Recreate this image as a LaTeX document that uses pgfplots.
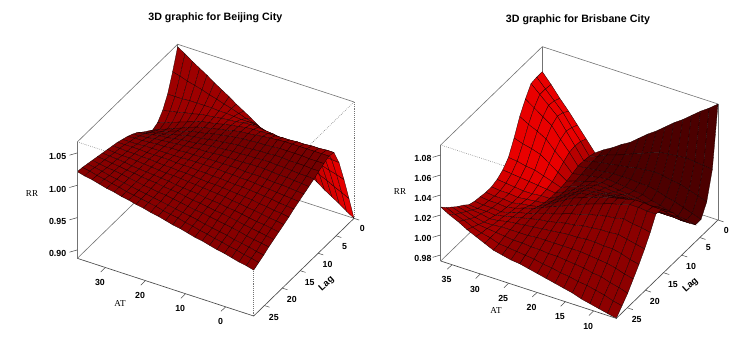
\documentclass[border=0pt]{standalone}
\usepackage{fontspec}
\setmainfont{Liberation Sans}
\newfontfamily\serifrm{Liberation Serif}
\usepackage{pgfplots}
\pgfplotsset{compat=1.18}
\def\ramp#1#2#3{min(1,max(0,((#1)-(#2))/((#3)-(#2))))}
\pgfplotsset{
  colormap={rr}{rgb255(0)=(45,0,0) rgb255(1)=(235,0,0)},
  persp/.style={
    clip=false, grid=none, axis line style={draw=none},
    tick style={draw=none}, major tick length=3pt,
    tick align=outside, xtick pos=left, ytick pos=left, ztick pos=left,
    ticklabel style={font=\bfseries\fontsize{6.6}{8}\selectfont,inner sep=1pt},
    xticklabel style={yshift=-4.8pt},
    yticklabel style={yshift=-3pt,xshift=0.7pt},
    colormap name=rr, point meta min=0, point meta max=1,
  },
  surfst/.style={surf,shader=faceted,faceted color=black!90!red,line width=0.22pt,z buffer=none,point meta=explicit},
  solidg/.style={gray!90!black,line width=0.45pt,forget plot},
  dotg/.style={gray!90!black,line width=0.45pt,densely dotted,forget plot},
  solidk/.style={black!70,line width=0.5pt,forget plot},
  tk/.style={black!70,line width=0.4pt,forget plot,unbounded coords=jump},
}
\begin{document}
\begin{tikzpicture}
\path[use as bounding box] (0,0) rectangle (552pt,252pt);
\node[font=\bfseries\fontsize{8}{9}\selectfont] at (161.5pt,238.5pt) {3D graphic for Beijing City};
\node[font=\bfseries\fontsize{8}{9}\selectfont] at (433.5pt,237pt) {3D graphic for Brisbane City};
\node[font=\serifrm\fontsize{6.8}{8}\selectfont] at (24pt,107pt) {RR};
\node[font=\serifrm\fontsize{6.8}{8}\selectfont] at (90pt,24pt) {AT};
\node[font=\bfseries\fontsize{7}{8}\selectfont,rotate=42] at (245pt,39pt) {Lag};
\node[font=\serifrm\fontsize{6.8}{8}\selectfont] at (300pt,108pt) {RR};
\node[font=\serifrm\fontsize{6.8}{8}\selectfont] at (372pt,19pt) {AT};
\node[font=\bfseries\fontsize{7}{8}\selectfont,rotate=42] at (518pt,38pt) {Lag};
\begin{axis}[persp,at={(58pt,15pt)},anchor=south west,
  x={(-3.006pt,0.983pt)},y={(-2.687pt,-2.616pt)},z={(0pt,485pt)},
  xmin=-7,xmax=37,ymin=0,ymax=28,zmin=0.887,zmax=1.067,
  zticklabel style={xshift=-5pt,yshift=1pt},
  xtick={0,10,20,30},xticklabels={0,10,20,30},
  ytick={0,5,10,15,20,25},yticklabels={0,5,10,15,20,25},
  ztick={0.9,0.95,1,1.05},zticklabels={0.90,0.95,1.00,1.05}]
\addplot3[solidg] coordinates {(37,28,1.067)(37,0,1.067)(-7,0,1.067)};
\addplot3[solidg] coordinates {(37,28,0.887)(37,0,0.887)(-7,0,0.887)};
\addplot3[solidg] coordinates {(37,0,0.887)(37,0,1.067)};
\addplot3[dotg] coordinates {(37,28,1.067)(-7,28,1.067)(-7,0,1.067)};
\addplot3[dotg] coordinates {(-7,28,0.887)(-7,28,1.067)};
\addplot3[dotg] coordinates {(-7,0,0.887)(-7,0,1.067)};
\addplot3[surfst,mesh/rows=21,mesh/cols=25] table[header=false,x expr={37-44/24*mod(\coordindex,25)},y expr={1.4*floor((\coordindex+0.5)/25)},z index=0,
 meta expr={0.47+(1-\ramp{1.4*floor((\coordindex+0.5)/25)}{4}{7})*(0.12+0.4*(mod(\coordindex,25)/24)^3)-0.1*\ramp{1.4*floor((\coordindex+0.5)/25)}{5}{8}*(1-\ramp{1.4*floor((\coordindex+0.5)/25)}{10}{16})}] {
1.063
1.056
1.048
1.041
1.034
1.026
1.019
1.012
1.004
0.997
0.990
0.982
0.975
0.968
0.960
0.953
0.946
0.938
0.931
0.924
0.916
0.909
0.902
0.894
0.887
1.032
1.029
1.025
1.022
1.019
1.015
1.012
1.008
1.005
1.001
0.997
0.994
0.990
0.985
0.979
0.974
0.969
0.963
0.958
0.953
0.947
0.942
0.936
0.931
0.925
1.005
1.005
1.005
1.006
1.006
1.006
1.006
1.005
1.005
1.004
1.003
1.003
1.002
0.999
0.996
0.992
0.989
0.986
0.983
0.980
0.976
0.973
0.969
0.966
0.962
0.987
0.990
0.992
0.995
0.997
1.000
1.002
1.003
1.005
1.006
1.007
1.009
1.010
1.009
1.008
1.007
1.005
1.004
1.003
1.002
1.001
1.000
0.998
0.997
0.996
0.976
0.980
0.984
0.988
0.992
0.996
1.000
1.002
1.004
1.007
1.009
1.011
1.013
1.014
1.014
1.015
1.015
1.016
1.016
1.017
1.017
1.018
1.018
1.019
1.019
0.972
0.977
0.981
0.986
0.990
0.995
0.999
1.002
1.004
1.007
1.009
1.012
1.014
1.015
1.016
1.018
1.019
1.020
1.021
1.021
1.021
1.021
1.021
1.021
1.021
0.978
0.982
0.985
0.989
0.993
0.996
1.000
1.002
1.004
1.007
1.009
1.011
1.013
1.014
1.015
1.016
1.016
1.017
1.018
1.018
1.018
1.018
1.017
1.017
1.017
0.984
0.987
0.990
0.992
0.995
0.998
1.001
1.003
1.004
1.006
1.008
1.009
1.011
1.012
1.012
1.013
1.014
1.014
1.015
1.015
1.014
1.014
1.014
1.013
1.013
0.991
0.993
0.995
0.997
0.998
1.000
1.002
1.003
1.004
1.006
1.007
1.008
1.009
1.010
1.010
1.011
1.011
1.012
1.012
1.011
1.011
1.010
1.009
1.009
1.008
0.996
0.997
0.998
1.000
1.001
1.002
1.003
1.004
1.005
1.006
1.006
1.007
1.008
1.008
1.008
1.008
1.009
1.009
1.009
1.008
1.007
1.007
1.006
1.005
1.004
1.000
1.001
1.001
1.002
1.003
1.003
1.004
1.004
1.005
1.005
1.005
1.006
1.006
1.006
1.006
1.006
1.005
1.005
1.005
1.004
1.003
1.003
1.002
1.001
1.000
1.003
1.003
1.003
1.004
1.004
1.004
1.004
1.004
1.004
1.005
1.005
1.005
1.005
1.005
1.004
1.004
1.003
1.003
1.002
1.001
1.000
0.999
0.998
0.997
0.996
1.006
1.006
1.006
1.006
1.005
1.005
1.005
1.005
1.004
1.004
1.004
1.003
1.003
1.002
1.002
1.001
1.000
1.000
0.999
0.998
0.997
0.996
0.994
0.993
0.992
1.008
1.008
1.007
1.007
1.006
1.006
1.005
1.004
1.004
1.003
1.003
1.002
1.001
1.000
1.000
0.999
0.998
0.997
0.996
0.995
0.993
0.992
0.990
0.989
0.987
1.010
1.009
1.008
1.008
1.007
1.006
1.005
1.004
1.003
1.003
1.002
1.001
1.000
0.999
0.998
0.997
0.996
0.994
0.993
0.991
0.990
0.988
0.986
0.985
0.983
1.012
1.011
1.010
1.009
1.007
1.006
1.005
1.004
1.003
1.002
1.000
0.999
0.998
0.997
0.995
0.994
0.993
0.991
0.990
0.988
0.986
0.984
0.983
0.981
0.979
1.014
1.013
1.011
1.010
1.008
1.007
1.005
1.004
1.003
1.001
1.000
0.999
0.997
0.995
0.994
0.992
0.990
0.989
0.987
0.985
0.983
0.981
0.979
0.977
0.975
1.016
1.014
1.012
1.011
1.009
1.007
1.005
1.003
1.002
1.000
0.999
0.997
0.995
0.993
0.991
0.990
0.988
0.986
0.984
0.982
0.980
0.977
0.975
0.973
0.971
1.018
1.016
1.014
1.011
1.009
1.007
1.005
1.003
1.001
0.999
0.997
0.995
0.993
0.991
0.989
0.987
0.984
0.982
0.980
0.978
0.975
0.973
0.971
0.968
0.966
1.020
1.018
1.015
1.013
1.010
1.008
1.005
1.003
1.001
0.999
0.997
0.994
0.992
0.990
0.987
0.985
0.982
0.980
0.977
0.975
0.972
0.970
0.967
0.965
0.962
1.021
1.018
1.016
1.013
1.010
1.008
1.005
1.003
1.000
0.998
0.995
0.993
0.990
0.987
0.985
0.982
0.979
0.977
0.974
0.971
0.969
0.966
0.963
0.961
0.958
};
\addplot3[solidk] coordinates {(37,28,0.887)(-7,28,0.887)(-7,0,0.887)};
\addplot3[solidg] coordinates {(37,28,0.887)(37,28,1.067)};
\addplot3[tk] coordinates {(30,28,0.887)(30,29.3,0.887)(nan,nan,nan)(20,28,0.887)(20,29.3,0.887)(nan,nan,nan)(10,28,0.887)(10,29.3,0.887)(nan,nan,nan)(0,28,0.887)(0,29.3,0.887)};
\addplot3[tk] coordinates {(-7,0,0.887)(-8.3,0,0.887)(nan,nan,nan)(-7,5,0.887)(-8.3,5,0.887)(nan,nan,nan)(-7,10,0.887)(-8.3,10,0.887)(nan,nan,nan)(-7,15,0.887)(-8.3,15,0.887)(nan,nan,nan)(-7,20,0.887)(-8.3,20,0.887)(nan,nan,nan)(-7,25,0.887)(-8.3,25,0.887)};
\addplot3[tk] coordinates {(37,28,0.9)(38.05,29.05,0.9)(nan,nan,nan)(37,28,0.95)(38.05,29.05,0.95)(nan,nan,nan)(37,28,1)(38.05,29.05,1)(nan,nan,nan)(37,28,1.05)(38.05,29.05,1.05)};
\end{axis}
\begin{axis}[persp,at={(330.5pt,13.25pt)},anchor=south west,
  x={(-4.25pt,1.387pt)},y={(-2.723pt,-2.634pt)},z={(0pt,750pt)},
  xmin=6,xmax=37,ymin=0,ymax=28,zmin=0.974,zmax=1.09,
  zticklabel style={xshift=-3.5pt,yshift=1pt},
  xtick={10,15,20,25,30,35},xticklabels={10,15,20,25,30,35},
  ytick={0,5,10,15,20,25},yticklabels={0,5,10,15,20,25},
  ztick={0.98,1,1.02,1.04,1.06,1.08},zticklabels={0.98,1.00,1.02,1.04,1.06,1.08}]
\addplot3[solidg] coordinates {(37,28,1.09)(37,0,1.09)(6,0,1.09)};
\addplot3[solidg] coordinates {(37,28,0.974)(37,0,0.974)(6,0,0.974)};
\addplot3[solidg] coordinates {(37,0,0.974)(37,0,1.09)};
\addplot3[dotg] coordinates {(37,28,1.09)(6,28,1.09)(6,0,1.09)};
\addplot3[dotg] coordinates {(6,28,0.974)(6,28,1.09)};
\addplot3[solidg] coordinates {(6,0,0.974)(6,0,1.09)};
\addplot3[surfst,mesh/rows=19,mesh/cols=21] table[header=false,x expr={37-31/20*mod(\coordindex,21)},y expr={28/18*floor((\coordindex+0.5)/21)},z index=0,
 meta expr={(1-\ramp{mod(\coordindex,21)/20}{0.25}{0.33})*(0.62+0.36*(1-\ramp{28/18*floor((\coordindex+0.5)/21)}{10}{17}))+\ramp{mod(\coordindex,21)/20}{0.25}{0.33}*(0.16+0.14*\ramp{28/18*floor((\coordindex+0.5)/21)}{4}{9}+0.2*\ramp{28/18*floor((\coordindex+0.5)/21)}{15}{19})}] {
1.065
1.055
1.044
1.034
1.023
1.012
1.001
1.007
1.012
1.018
1.023
1.030
1.037
1.043
1.050
1.057
1.063
1.070
1.077
1.083
1.090
1.065
1.056
1.047
1.038
1.026
1.015
1.003
1.006
1.010
1.013
1.016
1.020
1.023
1.027
1.030
1.031
1.032
1.033
1.032
1.031
1.030
1.064
1.056
1.048
1.040
1.028
1.016
1.004
1.006
1.008
1.009
1.011
1.012
1.014
1.015
1.016
1.015
1.013
1.012
1.009
1.006
1.003
1.054
1.048
1.042
1.036
1.025
1.015
1.004
1.005
1.006
1.007
1.008
1.008
1.008
1.007
1.007
1.005
1.002
1.000
0.997
0.994
0.991
1.042
1.037
1.033
1.028
1.019
1.011
1.002
1.004
1.005
1.007
1.008
1.007
1.006
1.005
1.004
1.001
0.999
0.996
0.994
0.993
0.991
1.026
1.023
1.021
1.018
1.012
1.006
1.000
1.003
1.005
1.008
1.010
1.009
1.008
1.007
1.006
1.004
1.001
0.999
0.999
0.998
0.998
1.012
1.011
1.009
1.008
1.005
1.002
0.999
1.003
1.006
1.010
1.013
1.013
1.012
1.012
1.011
1.009
1.008
1.006
1.006
1.006
1.006
1.005
1.004
1.003
1.002
1.001
1.000
0.999
1.003
1.008
1.012
1.016
1.016
1.016
1.017
1.017
1.016
1.015
1.014
1.014
1.015
1.015
1.001
1.000
0.999
0.998
0.998
0.999
0.999
1.004
1.009
1.014
1.019
1.020
1.021
1.022
1.023
1.023
1.023
1.023
1.024
1.024
1.025
0.999
0.998
0.998
0.997
0.998
0.999
1.000
1.005
1.011
1.016
1.021
1.023
1.025
1.027
1.029
1.030
1.031
1.032
1.032
1.033
1.033
0.999
0.998
0.998
0.997
0.999
1.000
1.002
1.007
1.012
1.017
1.022
1.025
1.028
1.031
1.034
1.036
1.038
1.040
1.040
1.039
1.039
1.000
0.999
0.999
0.998
1.000
1.003
1.005
1.009
1.013
1.016
1.020
1.023
1.027
1.030
1.033
1.036
1.038
1.041
1.041
1.040
1.040
1.001
1.000
1.000
0.999
1.001
1.004
1.006
1.009
1.012
1.014
1.017
1.020
1.022
1.025
1.027
1.029
1.030
1.032
1.030
1.029
1.027
1.003
1.002
1.002
1.001
1.003
1.005
1.007
1.009
1.011
1.012
1.014
1.016
1.017
1.019
1.020
1.021
1.021
1.022
1.020
1.018
1.016
1.008
1.006
1.005
1.003
1.004
1.006
1.007
1.008
1.009
1.010
1.011
1.012
1.013
1.013
1.014
1.014
1.013
1.013
1.011
1.008
1.006
1.012
1.010
1.007
1.005
1.005
1.006
1.006
1.006
1.006
1.007
1.007
1.007
1.007
1.007
1.007
1.006
1.005
1.004
1.002
0.999
0.997
1.017
1.014
1.011
1.008
1.007
1.006
1.005
1.004
1.004
1.003
1.003
1.002
1.002
1.001
1.000
0.999
0.997
0.996
0.993
0.991
0.988
1.022
1.018
1.015
1.011
1.008
1.006
1.003
1.002
1.001
1.000
0.999
0.997
0.996
0.994
0.993
0.991
0.990
0.988
0.986
0.983
0.981
1.028
1.023
1.019
1.014
1.010
1.006
1.002
1.000
0.998
0.997
0.995
0.993
0.991
0.989
0.987
0.985
0.982
0.980
0.978
0.976
0.974
};
\addplot3[solidk] coordinates {(37,28,0.974)(6,28,0.974)(6,0,0.974)};
\addplot3[solidg] coordinates {(37,28,0.974)(37,28,1.09)};
\addplot3[tk] coordinates {(35,28,0.974)(35,29.3,0.974)(nan,nan,nan)(30,28,0.974)(30,29.3,0.974)(nan,nan,nan)(25,28,0.974)(25,29.3,0.974)(nan,nan,nan)(20,28,0.974)(20,29.3,0.974)(nan,nan,nan)(15,28,0.974)(15,29.3,0.974)(nan,nan,nan)(10,28,0.974)(10,29.3,0.974)};
\addplot3[tk] coordinates {(6,0,0.974)(5,0,0.974)(nan,nan,nan)(6,5,0.974)(5,5,0.974)(nan,nan,nan)(6,10,0.974)(5,10,0.974)(nan,nan,nan)(6,15,0.974)(5,15,0.974)(nan,nan,nan)(6,20,0.974)(5,20,0.974)(nan,nan,nan)(6,25,0.974)(5,25,0.974)};
\addplot3[tk] coordinates {(37,28,0.98)(37.74,29.05,0.98)(nan,nan,nan)(37,28,1)(37.74,29.05,1)(nan,nan,nan)(37,28,1.02)(37.74,29.05,1.02)(nan,nan,nan)(37,28,1.04)(37.74,29.05,1.04)(nan,nan,nan)(37,28,1.06)(37.74,29.05,1.06)(nan,nan,nan)(37,28,1.08)(37.74,29.05,1.08)};
\end{axis}
\end{tikzpicture}
\end{document}
